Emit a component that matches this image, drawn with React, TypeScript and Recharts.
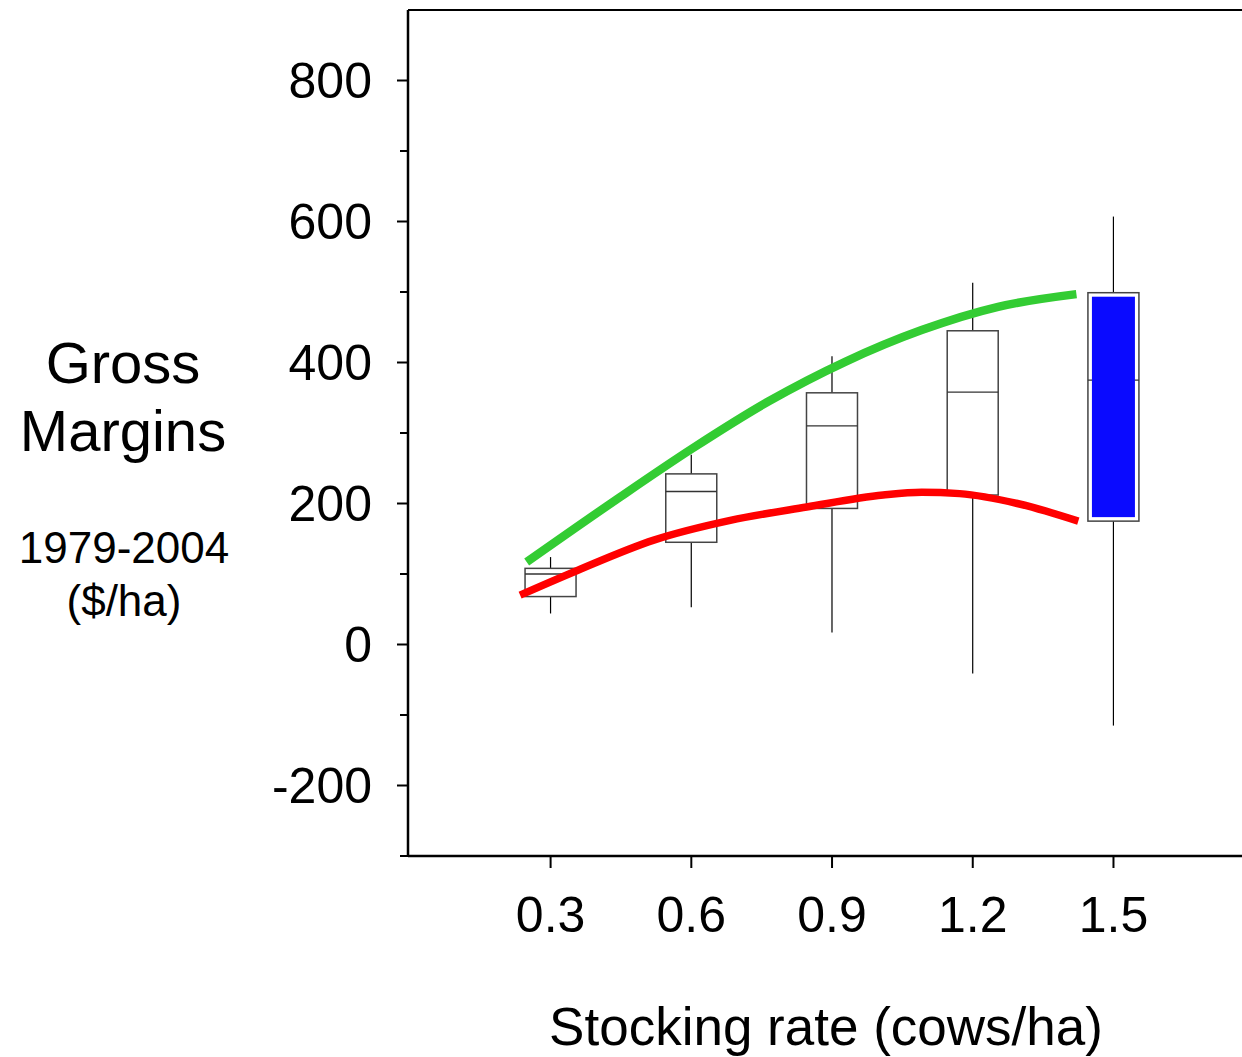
import { ComposedChart, Bar, Line, XAxis, YAxis, ReferenceLine } from "recharts";

const FONT = "'Liberation Sans', Arial, sans-serif";
const BOX_W = 51;

// box plots: gross margin ($/ha) per stocking rate
const stockingRates = [0.3, 0.6, 0.9, 1.2, 1.5];
const whiskerLow = [44, 53, 17, -41, -115];
const quartile1 = [68, 145, 193, 212, 175];
const medians = [100, 217, 310, 358, 375];
const quartile3 = [108, 242, 357, 445, 499];
const whiskerHigh = [124, 269, 409, 513, 607];
const highlighted = [false, false, false, false, true];

// fitted curves
const greenX = [0.249, 0.439, 0.602, 0.765, 0.928, 1.091, 1.254, 1.421];
const greenY = [117, 205, 278, 345, 401, 446, 479, 497];
const redX = [0.235, 0.357, 0.52, 0.683, 0.846, 1.009, 1.091, 1.172, 1.295, 1.425];
const redY = [70, 105, 148, 176, 195, 212, 216, 214, 200, 175];

const xTicks = [0.3, 0.6, 0.9, 1.2, 1.5];
const yTicks = [-300, -200, -100, 0, 100, 200, 300, 400, 500, 600, 700, 800];

const boxData = stockingRates.map((x, i) => ({
  x,
  lo: whiskerLow[i],
  q1: quartile1[i],
  med: medians[i],
  q3: quartile3[i],
  hi: whiskerHigh[i],
  hl: highlighted[i],
}));
const greenData = greenX.map((x, i) => ({ x, gm: greenY[i] }));
const redData = redX.map((x, i) => ({ x, gm: redY[i] }));

function BoxShape(props: any) {
  const { x, y, width, height, payload } = props;
  if (payload == null || height == null) return null;
  const top = Math.min(y, y + height);
  const h = Math.abs(height);
  const per = h / (payload.hi - payload.lo);
  const py = (v: number) => top + (payload.hi - v) * per;
  const cx = x + (width || 0) / 2;
  const left = cx - BOX_W / 2;
  const yq3 = py(payload.q3);
  const yq1 = py(payload.q1);
  const ym = py(payload.med);
  return (
    <g>
      <line x1={cx} x2={cx} y1={top} y2={yq3} stroke="#000" strokeWidth={1.2} />
      <line x1={cx} x2={cx} y1={yq1} y2={top + h} stroke="#000" strokeWidth={1.2} />
      <rect x={left} y={yq3} width={BOX_W} height={yq1 - yq3} fill="#fff" stroke="#444" strokeWidth={1.5} />
      <line x1={left} x2={left + BOX_W} y1={ym} y2={ym} stroke="#333" strokeWidth={1.3} />
      {payload.hl && (
        <rect x={left + 4} y={yq3 + 4} width={BOX_W - 8} height={yq1 - yq3 - 8} fill="#0a0aff" />
      )}
    </g>
  );
}

function YTick(props: any) {
  const { x, y, payload } = props;
  const major = payload.value % 200 === 0;
  return (
    <g>
      <line x1={x - (major ? 11 : 8)} x2={x} y1={y} y2={y} stroke="#000" strokeWidth={2} />
      {major && (
        <text x={x - 36} y={y} dy="0.34em" textAnchor="end" fontSize={50} fontFamily={FONT} fill="#000">
          {payload.value}
        </text>
      )}
    </g>
  );
}

function LeftTitle() {
  return (
    <g fontFamily={FONT} fill="#000" textAnchor="middle">
      <text x={123} y={383} fontSize={58}>Gross</text>
      <text x={123} y={451} fontSize={58}>Margins</text>
      <text x={124} y={563} fontSize={44}>1979-2004</text>
      <text x={124} y={616} fontSize={44}>($/ha)</text>
    </g>
  );
}

function BottomTitle() {
  return (
    <text x={826} y={1045} textAnchor="middle" fontSize={53} fontFamily={FONT} fill="#000">
      Stocking rate (cows/ha)
    </text>
  );
}

export default function App() {
  return (
    <div style={{ position: "absolute", left: 0, top: 0, background: "#fff" }}>
      <ComposedChart
        width={1242}
        height={1057}
        data={boxData}
        margin={{ top: 10, right: 0, left: 0, bottom: 0 }}
      >
        <XAxis
          dataKey="x"
          type="number"
          domain={[-0.004, 1.774]}
          ticks={xTicks}
          allowDataOverflow
          height={201}
          axisLine={{ stroke: "#000", strokeWidth: 2.5 }}
          tickLine={{ stroke: "#000", strokeWidth: 2 }}
          tickSize={12}
          tickMargin={28}
          tick={{ fill: "#000", fontSize: 50, fontFamily: FONT }}
          label={{ content: () => <BottomTitle /> }}
        />
        <YAxis
          type="number"
          domain={[-300, 900]}
          ticks={yTicks}
          allowDataOverflow
          width={408}
          axisLine={{ stroke: "#000", strokeWidth: 2.5 }}
          tickLine={false}
          tickSize={0}
          tickMargin={0}
          tick={<YTick />}
          label={{ content: () => <LeftTitle /> }}
        />
        <ReferenceLine y={900} stroke="#000" strokeWidth={2} />
        <Bar
          dataKey={(d: any) => [d.lo, d.hi]}
          barSize={BOX_W}
          shape={<BoxShape />}
          isAnimationActive={false}
        />
        <Line
          data={greenData}
          dataKey="gm"
          type="monotone"
          stroke="#33cc33"
          strokeWidth={8.5}
          dot={false}
          activeDot={false}
          isAnimationActive={false}
        />
        <Line
          data={redData}
          dataKey="gm"
          type="monotone"
          stroke="#ff0000"
          strokeWidth={7.5}
          dot={false}
          activeDot={false}
          isAnimationActive={false}
        />
      </ComposedChart>
    </div>
  );
}
